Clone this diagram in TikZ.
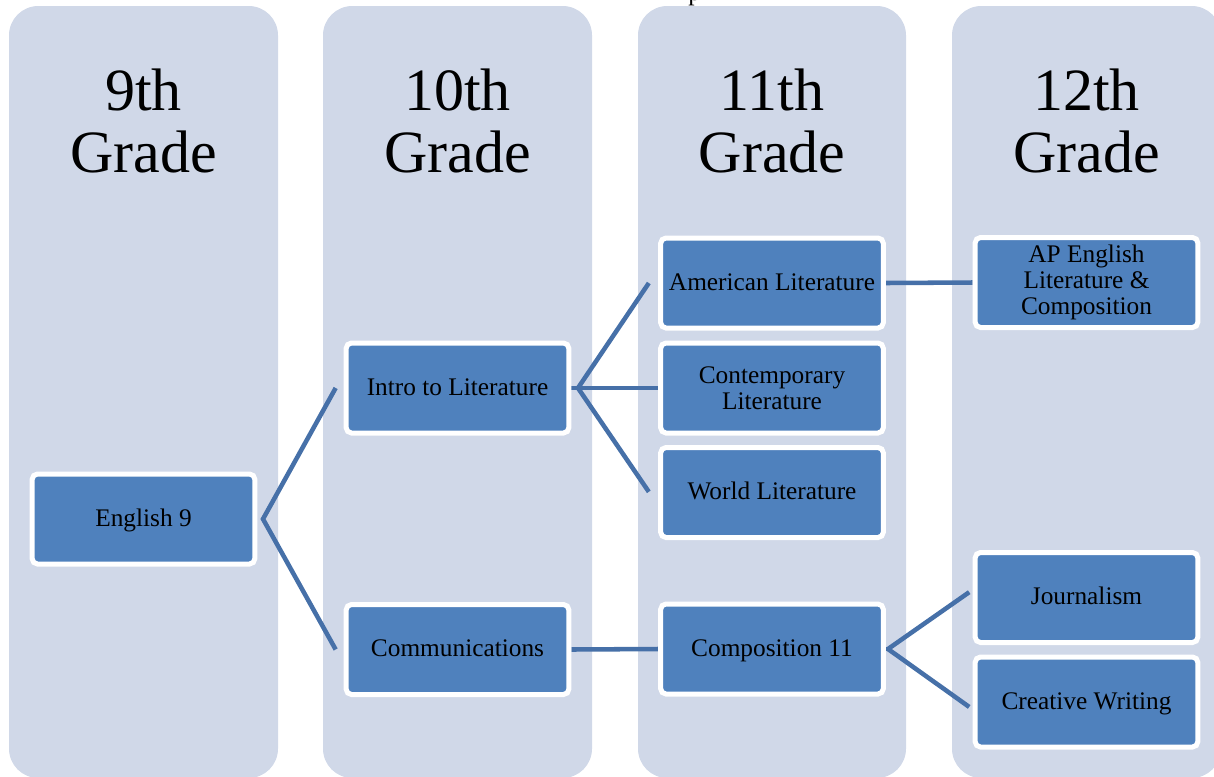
\documentclass[tikz,border=0pt]{standalone}
\usepackage{fontspec}
\setmainfont{Liberation Serif}
\pgfdeclarelayer{cols}
\pgfdeclarelayer{links}
\pgfsetlayers{cols,links,main}
\definecolor{colbg}{HTML}{D0D8E8}
\definecolor{boxfill}{HTML}{4F81BD}
\definecolor{linkc}{HTML}{4670A8}
\tikzset{
  column/.style={fill=colbg, rounded corners=22pt},
  course/.style={draw=white, line width=3.75pt, fill=boxfill, rounded corners=4pt,
    minimum width=167pt, minimum height=67.5pt, inner sep=2pt, align=center,
    font=\fontsize{19}{19.5}\selectfont, text=black},
  oneline/.style={course, text height=14.5pt, text depth=4pt},
  grade/.style={align=center, font=\fontsize{45}{46}\selectfont, inner sep=0pt},
  link/.style={draw=linkc, line width=3.4pt}
}
\begin{document}
\begin{tikzpicture}[x=0.75pt,y=-0.75pt]
\useasboundingbox (0,0) rectangle (1214,776);
\begin{pgfonlayer}{cols}
  \fill[column] (9,6) rectangle (278,778);
  \fill[column] (323,6) rectangle (592,778);
  \fill[column] (638,6) rectangle (906,778);
  \fill[column] (952,6) rectangle (1221,778);
\end{pgfonlayer}
% cut-off text fragment at top
\node[inner sep=0pt, anchor=base west, font=\fontsize{19}{19.5}\selectfont] (frag) at (688,0.5) {p};
% headers
\node[grade] (g9)  at (143.5,121) {9th\\Grade};
\node[grade] (g10) at (457.5,121) {10th\\Grade};
\node[grade] (g11) at (772,121) {11th\\Grade};
\node[grade] (g12) at (1086.5,121) {12th\\Grade};
% courses
\node[oneline] (eng9)  at (143.5,519) {English 9};
\node[oneline] (intro) at (457.5,388) {Intro to Literature};
\node[oneline] (comm)  at (457.5,649.5) {Communications};
\node[oneline] (amer)  at (772,283) {American Literature};
\node[course]  (cont)  at (772,388) {Contemporary\\Literature};
\node[oneline] (world) at (772,492.5) {World Literature};
\node[oneline] (comp)  at (772,649) {Composition 11};
\node[course]  (ap)    at (1086.5,282.5) {AP English\\Literature \&\\Composition};
\node[oneline] (journ) at (1086.5,597.5) {Journalism};
\node[oneline] (cw)    at (1086.5,702) {Creative Writing};
% junction points
\coordinate (j1) at (263,519);
\coordinate (j2) at (578,388);
\coordinate (j3) at (888,649);
\begin{pgfonlayer}{links}
  \draw[link] ([xshift=-6pt]intro.west) -- (j1) -- ([xshift=-6pt]comm.west);
  \draw[link] (intro.east) -- (j2);
  \draw[link] (j2) -- ([xshift=-7pt]amer.west);
  \draw[link] (j2) -- (cont.west);
  \draw[link] (j2) -- ([xshift=-7pt,yshift=0.5pt]world.west);
  \draw[link] (amer.east) -- (ap.west);
  \draw[link] (comm.east) -- (comp.west);
  \draw[link] (comp.east) -- (j3);
  \draw[link] (j3) -- ([xshift=-2.6pt,yshift=4pt]journ.west);
  \draw[link] (j3) -- ([xshift=-2.6pt,yshift=-3.7pt]cw.west);
\end{pgfonlayer}
\end{tikzpicture}
\end{document}
